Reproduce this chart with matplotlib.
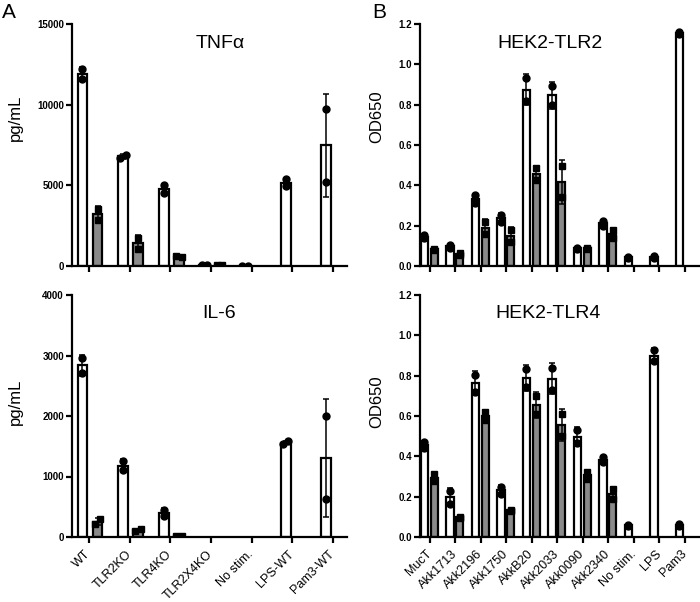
import numpy as np
import matplotlib
matplotlib.use('Agg')
import matplotlib.pyplot as plt
from matplotlib.transforms import ScaledTranslation

plt.rcParams['font.family'] = ['Liberation Sans', 'DejaVu Sans']

# panel A: cytokines (pg/mL), two replicates per bar
cyto_labels = ['WT', 'TLR2KO', 'TLR4KO', 'TLR2X4KO', 'No stim.', 'LPS-WT', 'Pam3-WT']
tnf_white = [[12200, 11600], [6700, 6880], [5000, 4500], [40, 40], [30, 30], [5390, 4950], [9750, 5230]]
tnf_gray = [[3550, 2850], [1760, 1050], [600, 560], [50, 50], None, None, None]
il6_white = [[2960, 2710], [1250, 1100], [450, 340], None, None, [1540, 1580], [2000, 620]]
il6_gray = [[210, 290], [100, 130], [10, 15], None, None, None, None]

# panel B: HEK reporter cells (OD650)
hek_labels = ['MucT', 'Akk1713', 'Akk2196', 'Akk1750', 'AkkB20', 'Akk2033',
              'Akk0090', 'Akk2340', 'No stim.', 'LPS', 'Pam3']
tlr2_white = [[0.152, 0.140], [0.105, 0.090], [0.350, 0.310], [0.255, 0.220], [0.930, 0.820],
              [0.895, 0.800], [0.090, 0.085], [0.225, 0.200], [0.045, 0.040], [0.048, 0.042],
              [1.160, 1.150]]
tlr2_gray = [[0.085, 0.080], [0.065, 0.055], [0.220, 0.160], [0.180, 0.120], [0.485, 0.425],
             [0.495, 0.340], [0.090, 0.085], [0.180, 0.140], None, None, None]
tlr4_white = [[0.470, 0.440], [0.230, 0.165], [0.805, 0.720], [0.250, 0.215], [0.835, 0.745],
              [0.840, 0.730], [0.530, 0.465], [0.395, 0.370], [0.060, 0.055], [0.925, 0.875],
              [0.062, 0.055]]
tlr4_gray = [[0.310, 0.280], [0.100, 0.095], [0.620, 0.580], [0.135, 0.130], [0.700, 0.610],
             [0.610, 0.500], [0.320, 0.290], [0.240, 0.190], None, None, None]

W, H = 700, 602
fig = plt.figure(figsize=(W / 100, H / 100), dpi=100)


def px_axes(x0, x1, y0, y1):
    # pixel box (top-left origin) -> figure fraction
    return fig.add_axes([x0 / W, 1 - y1 / H, (x1 - x0) / W, (y1 - y0) / H])


def draw_bars(ax, groups, marker, offset, width, color, overlap, jit):
    for i, pts in enumerate(groups):
        if pts is None:
            continue
        pts = np.array(pts, dtype=float)
        x = i + offset
        m = pts.mean()
        sd = pts.std(ddof=1)
        ax.bar(x, m, width=width, color=color, edgecolor='black', linewidth=1.6, zorder=2)
        ax.errorbar(x, m, yerr=sd, fmt='none', ecolor='black', elinewidth=1.1,
                    capsize=2.5, capthick=1.1, zorder=3)
        if abs(pts[0] - pts[1]) < overlap:
            xs = [x - jit, x + jit]
        else:
            xs = [x, x]
        ax.plot(xs, pts, linestyle='none', marker=marker, color='black',
                markersize=5, zorder=4)


def style(ax, ymax, yticks, fmt, labels, xlim, show_x, dx=0):
    ax.set_ylim(0, ymax)
    ax.set_xlim(*xlim)
    ax.set_yticks(yticks)
    ax.set_yticklabels([fmt(v) for v in yticks], fontsize=7, fontweight='bold')
    ax.set_xticks(range(len(labels)))
    if show_x:
        ax.set_xticklabels(labels, rotation=45, ha='right', va='center',
                           rotation_mode='anchor', fontsize=9)
        shift = ScaledTranslation(dx / 100, 0, fig.dpi_scale_trans)
        for lab in ax.get_xticklabels():
            lab.set_transform(lab.get_transform() + shift)
    else:
        ax.set_xticklabels([])
    for s in ['top', 'right']:
        ax.spines[s].set_visible(False)
    for s in ['left', 'bottom']:
        ax.spines[s].set_linewidth(1.6)
    ax.tick_params(direction='out', length=4, width=1.6, pad=1.5)
    ax.tick_params(axis='x', pad=7)
    ax.set_facecolor('none')


gray = '#8a8a8a'

# panel A
ax1 = px_axes(71.5, 347, 24, 266)
draw_bars(ax1, tnf_white, 'o', -0.16, 0.24, 'white', 370, 0.07)
draw_bars(ax1, tnf_gray, 's', 0.21, 0.24, gray, 370, 0.07)
style(ax1, 15000, [0, 5000, 10000, 15000], lambda v: f'{v:d}', cyto_labels, (-0.43, 6.35), False)

ax2 = px_axes(71.5, 347, 295, 537)
draw_bars(ax2, il6_white, 'o', -0.16, 0.24, 'white', 99, 0.07)
draw_bars(ax2, il6_gray, 's', 0.21, 0.24, gray, 99, 0.07)
style(ax2, 4000, [0, 1000, 2000, 3000, 4000], lambda v: f'{v:d}', cyto_labels, (-0.43, 6.35), True, dx=-1)

# panel B
bticks = [0.0, 0.2, 0.4, 0.6, 0.8, 1.0, 1.2]
ax3 = px_axes(419.5, 700, 24, 266)
draw_bars(ax3, tlr2_white, 'o', -0.22, 0.29, 'white', 0, 0)
draw_bars(ax3, tlr2_gray, 's', 0.17, 0.29, gray, 0, 0)
style(ax3, 1.2, bticks, lambda v: f'{v:.1f}', hek_labels, (-0.41, 10.59), False)

ax4 = px_axes(419.5, 700, 295, 537)
draw_bars(ax4, tlr4_white, 'o', -0.22, 0.29, 'white', 0, 0)
draw_bars(ax4, tlr4_gray, 's', 0.17, 0.29, gray, 0, 0)
style(ax4, 1.2, bticks, lambda v: f'{v:.1f}', hek_labels, (-0.41, 10.59), True, dx=3)


def ftext(x, y, s, **kw):
    fig.text(x / W, 1 - y / H, s, **kw)


ftext(220, 43, 'TNFα', fontsize=14, ha='center', va='center')
ftext(219, 313, 'IL-6', fontsize=14, ha='center', va='center')
ftext(550, 43, 'HEK2-TLR2', fontsize=14, ha='center', va='center')
ftext(548, 313, 'HEK2-TLR4', fontsize=14, ha='center', va='center')

ftext(15, 118, 'pg/mL', fontsize=12, rotation=90, ha='center', va='center')
ftext(15, 402, 'pg/mL', fontsize=12, rotation=90, ha='center', va='center')
ftext(377, 117, 'OD650', fontsize=12, rotation=90, ha='center', va='center')
ftext(377, 402, 'OD650', fontsize=12, rotation=90, ha='center', va='center')

ftext(2, 12, 'A', fontsize=15, ha='left', va='center')
ftext(372, 12, 'B', fontsize=15, ha='left', va='center')

fig.savefig('out.png', dpi=100)
